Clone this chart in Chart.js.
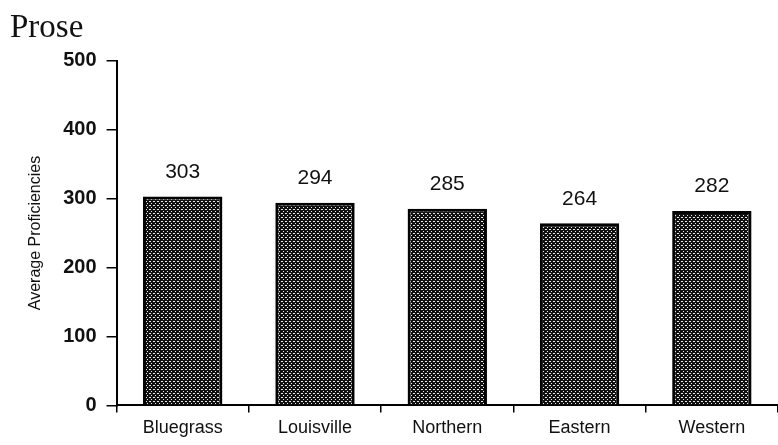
<!DOCTYPE html>
<html>
<head>
<meta charset="utf-8">
<script src="https://cdn.jsdelivr.net/npm/chart.js@4"></script>
<style>
    body { margin: 0; background: #fff; }
    #wrap { width: 778px; height: 445px; }
</style>
</head>
<body>
<div id="wrap"><canvas id="proseChart"></canvas></div>
<script>
let regions = ['Bluegrass', 'Louisville', 'Northern', 'Eastern', 'Western'];
let proficiencies = [303, 294, 285, 264, 282];
let yTicks = [0, 100, 200, 300, 400, 500];

// dotted fill like the printed halftone
function makeDotPattern() {
    let c = document.createElement('canvas');
    c.width = 4;
    c.height = 4;
    let g = c.getContext('2d');
    g.fillStyle = '#111';
    g.fillRect(0, 0, 4, 4);
    g.fillStyle = '#e8e8e8';
    g.fillRect(1, 1, 2, 1);
    g.fillRect(3, 3, 1, 1);
    return g.createPattern(c, 'repeat');
}

// numbers above each bar
const valueLabels = {
    id: 'valueLabels',
    afterDatasetsDraw(chart) {
        let ctx = chart.ctx;
        let meta = chart.getDatasetMeta(0);
        ctx.save();
        ctx.font = '21px "Liberation Sans", Arial, sans-serif';
        ctx.fillStyle = '#111';
        ctx.textAlign = 'center';
        ctx.textBaseline = 'bottom';
        meta.data.forEach((bar, i) => {
            ctx.fillText(proficiencies[i], bar.x, bar.y - 14);
        });
        ctx.restore();
    }
};

var ctx = document.getElementById('proseChart').getContext('2d');
new Chart(ctx, {
    type: 'bar',
    data: {
        labels: regions,
        datasets: [{
            data: proficiencies,
            backgroundColor: makeDotPattern(),
            borderColor: '#000',
            borderWidth: 3,
            barPercentage: 0.6,
            categoryPercentage: 1.0
        }]
    },
    options: {
        responsive: true,
        maintainAspectRatio: false,
        animation: false,
        layout: { padding: { left: 10, right: 0, top: 9, bottom: 1 } },
        plugins: {
            legend: { display: false },
            tooltip: { enabled: false },
            title: {
                display: true,
                text: 'Prose',
                align: 'start',
                color: '#111',
                font: { family: '"Liberation Serif", "Times New Roman", serif', size: 33, weight: 'normal' },
                padding: { top: 0, bottom: 12 }
            }
        },
        scales: {
            x: {
                grid: { display: true, offset: true, drawOnChartArea: false, tickLength: 7, color: '#000', lineWidth: 1.5 },
                border: { color: '#000', width: 2 },
                ticks: {
                    color: '#111',
                    padding: 5,
                    font: { family: '"Liberation Sans", Arial, sans-serif', size: 18 }
                }
            },
            y: {
                min: 0,
                max: 500,
                afterBuildTicks: axis => { axis.ticks = yTicks.map(v => ({ value: v })); },
                grid: { display: true, drawOnChartArea: false, tickLength: 10, color: '#000', lineWidth: 1.5 },
                border: { color: '#000', width: 2 },
                ticks: {
                    color: '#111',
                    padding: 10,
                    font: { family: '"Liberation Sans", Arial, sans-serif', size: 20, weight: 'bold' }
                },
                title: {
                    display: true,
                    text: 'Average Proficiencies',
                    color: '#111',
                    padding: { top: 16, bottom: 8 },
                    font: { family: '"Liberation Sans", Arial, sans-serif', size: 16 }
                }
            }
        }
    },
    plugins: [valueLabels]
});
</script>
</body>
</html>
